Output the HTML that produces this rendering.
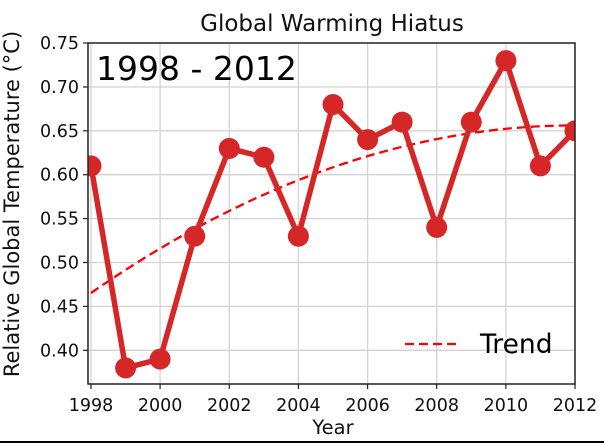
<!DOCTYPE html>
<html><head><style>body{margin:0;background:#fff}svg{display:block;font-family:"DejaVu Sans","Liberation Sans",sans-serif}</style></head><body>
<svg width="604" height="443" viewBox="0 0 604 443" xmlns="http://www.w3.org/2000/svg">
<rect width="604" height="443" fill="#fff"/>
<g stroke="#d3d3d3" stroke-width="1.3">
<line x1="91" y1="43" x2="91" y2="384"/><line x1="160.1" y1="43" x2="160.1" y2="384"/><line x1="229.3" y1="43" x2="229.3" y2="384"/><line x1="298.4" y1="43" x2="298.4" y2="384"/><line x1="367.6" y1="43" x2="367.6" y2="384"/><line x1="436.7" y1="43" x2="436.7" y2="384"/><line x1="505.9" y1="43" x2="505.9" y2="384"/><line x1="575" y1="43" x2="575" y2="384"/>
<line x1="88" y1="87" x2="575" y2="87"/><line x1="88" y1="130.8" x2="575" y2="130.8"/><line x1="88" y1="174.7" x2="575" y2="174.7"/><line x1="88" y1="218.6" x2="575" y2="218.6"/><line x1="88" y1="262.5" x2="575" y2="262.5"/><line x1="88" y1="306.4" x2="575" y2="306.4"/><line x1="88" y1="350.3" x2="575" y2="350.3"/>
</g>
<path d="M91,293 Q333,125.4 575,125.4" fill="none" stroke="#ff0000" stroke-width="2.3" stroke-dasharray="9,5"/>
<polyline fill="none" stroke="#d62728" stroke-width="5.5" stroke-linejoin="round" points="91,165.9 125.6,367.9 160.1,359.1 194.7,236.2 229.3,148.4 263.9,157.2 298.4,236.2 333,104.5 367.6,139.6 402.1,122.1 436.7,227.4 471.3,122.1 505.9,60.6 540.4,165.9 575,130.8"/>
<g fill="#d62728">
<circle cx="91" cy="165.9" r="10.5"/><circle cx="125.6" cy="367.9" r="10.5"/><circle cx="160.1" cy="359.1" r="10.5"/><circle cx="194.7" cy="236.2" r="10.5"/><circle cx="229.3" cy="148.4" r="10.5"/><circle cx="263.9" cy="157.2" r="10.5"/><circle cx="298.4" cy="236.2" r="10.5"/><circle cx="333" cy="104.5" r="10.5"/><circle cx="367.6" cy="139.6" r="10.5"/><circle cx="402.1" cy="122.1" r="10.5"/><circle cx="436.7" cy="227.4" r="10.5"/><circle cx="471.3" cy="122.1" r="10.5"/><circle cx="505.9" cy="60.6" r="10.5"/><circle cx="540.4" cy="165.9" r="10.5"/><circle cx="575" cy="130.8" r="10.5"/>
</g>
<rect x="0" y="0" width="88" height="443" fill="#fff"/>
<rect x="575.5" y="0" width="29" height="443" fill="#fff"/>
<rect x="0" y="0" width="604" height="42.5" fill="#fff"/>
<rect x="0" y="384.5" width="604" height="58.5" fill="#fff"/>
<path d="M88,43 L575,43 L575,384 L88,384 Z" fill="none" stroke="#222" stroke-width="1.5"/>
<g stroke="#222" stroke-width="1.2">
<line x1="91" y1="384" x2="91" y2="389"/><line x1="160.1" y1="384" x2="160.1" y2="389"/><line x1="229.3" y1="384" x2="229.3" y2="389"/><line x1="298.4" y1="384" x2="298.4" y2="389"/><line x1="367.6" y1="384" x2="367.6" y2="389"/><line x1="436.7" y1="384" x2="436.7" y2="389"/><line x1="505.9" y1="384" x2="505.9" y2="389"/><line x1="575" y1="384" x2="575" y2="389"/>
<line x1="83" y1="43" x2="88" y2="43"/><line x1="83" y1="87" x2="88" y2="87"/><line x1="83" y1="130.8" x2="88" y2="130.8"/><line x1="83" y1="174.7" x2="88" y2="174.7"/><line x1="83" y1="218.6" x2="88" y2="218.6"/><line x1="83" y1="262.5" x2="88" y2="262.5"/><line x1="83" y1="306.4" x2="88" y2="306.4"/><line x1="83" y1="350.3" x2="88" y2="350.3"/>
</g>
<g font-size="17.5" fill="#111" text-anchor="middle">
<text x="91" y="411">1998</text><text x="160.1" y="411">2000</text><text x="229.3" y="411">2002</text><text x="298.4" y="411">2004</text><text x="367.6" y="411">2006</text><text x="436.7" y="411">2008</text><text x="505.9" y="411">2010</text><text x="575" y="411">2012</text>
<text x="333" y="434" font-size="19.5">Year</text>
<text x="332" y="31" font-size="23">Global Warming Hiatus</text>
</g>
<g font-size="17.5" fill="#111" text-anchor="end">
<text x="79" y="49">0.75</text><text x="79" y="93">0.70</text><text x="79" y="136.8">0.65</text><text x="79" y="180.7">0.60</text><text x="79" y="224.6">0.55</text><text x="79" y="268.5">0.50</text><text x="79" y="312.4">0.45</text><text x="79" y="356.3">0.40</text>
</g>
<text transform="translate(19,204) rotate(-90)" font-size="21" fill="#111" text-anchor="middle">Relative Global Temperature (°C)</text>
<text x="96" y="80" font-size="33" fill="#000">1998 - 2012</text>
<line x1="405" y1="344" x2="458" y2="344" stroke="#ff0000" stroke-width="2.3" stroke-dasharray="9,5"/>
<text x="480" y="353" font-size="26.5" fill="#000">Trend</text>
<line x1="0" y1="442" x2="604" y2="442" stroke="#000" stroke-width="2"/>
</svg>
</body></html>
